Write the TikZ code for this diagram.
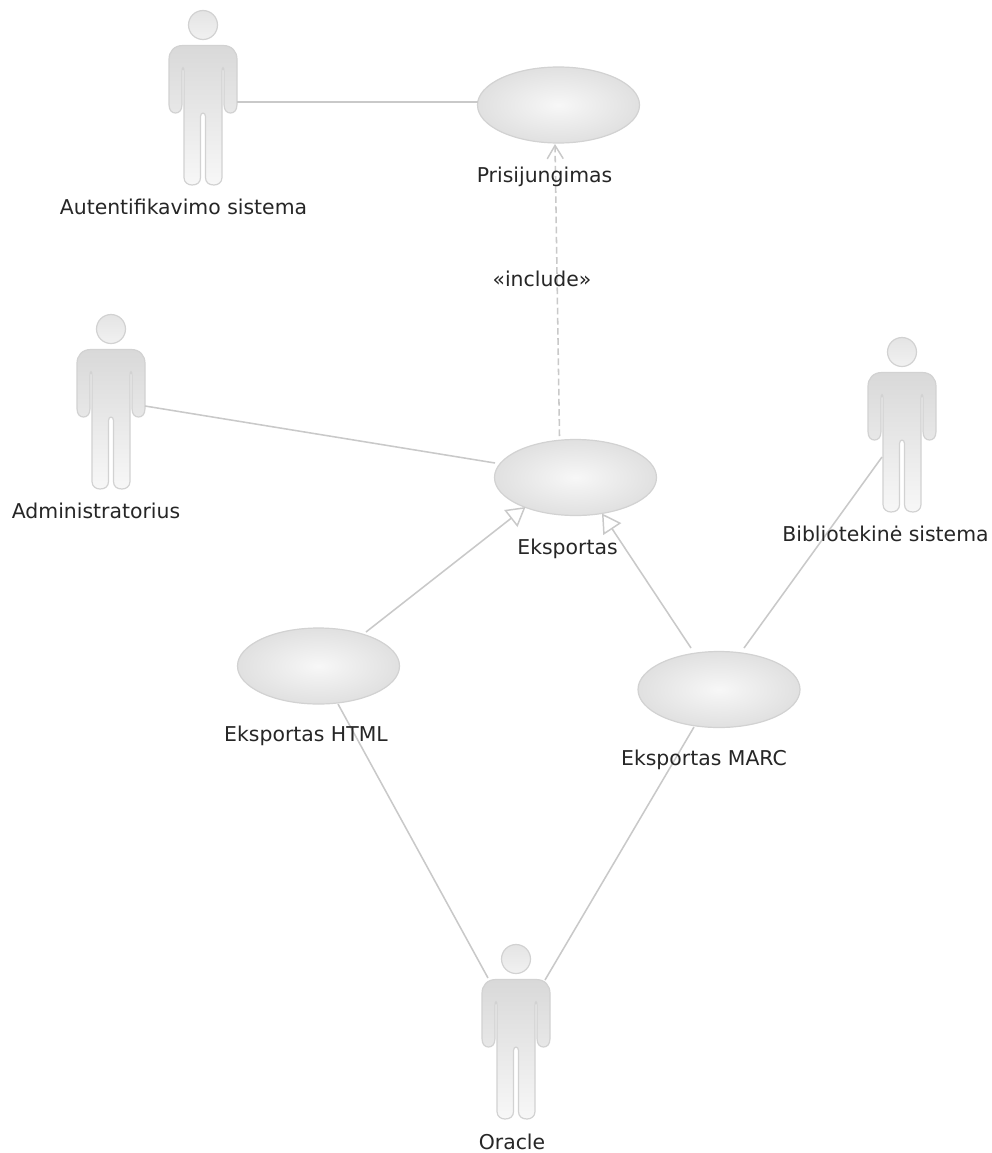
\documentclass[tikz,border=0pt]{standalone}
\usepackage{fontspec}
\setmainfont{DejaVu Sans}
\usetikzlibrary{arrows.meta,shapes.geometric}
\definecolor{linegray}{HTML}{C9C9C9}
\definecolor{edgegray}{HTML}{D2D2D2}
\pgfdeclareradialshading{ucshade}{\pgfpoint{0bp}{0bp}}{color(0bp)=(white!97!black); color(8bp)=(white!94!black); color(36bp)=(white!84!black); color(50bp)=(white!84!black)}
\pgfdeclareverticalshading{actshade}{100bp}{color(0bp)=(white!99!black); color(25bp)=(white!97!black); color(75bp)=(white!85!black); color(100bp)=(white!84!black)}
\pgfdeclareverticalshading{headshade}{100bp}{color(0bp)=(white!97!black); color(100bp)=(white!87!black)}
\tikzset{
  x=0.75pt,y=-0.75pt,
  usecase/.style={ellipse,minimum width=121.5pt,minimum height=57pt,inner sep=0pt,draw=edgegray,line width=0.9pt,shading=ucshade},
  actorbox/.style={rectangle,minimum width=51pt,minimum height=131.25pt,inner sep=0pt,outer sep=0pt},
  rel/.style={draw=linegray,line width=1.15pt},
  incl/.style={rel,dash pattern=on 5pt off 2.6pt,-{Straight Barb[length=10pt,width=12pt,line width=1.1pt]}},
  gen/.style={rel,-{Triangle[open,length=14pt,width=16pt,line width=1.1pt,fill=white]}},
  lbl/.style={inner sep=0pt,font=\fontsize{15.3pt}{18pt}\selectfont,text=black!85},
  pics/actor/.style={code={
    \path[draw=edgegray,line width=0.9pt,shading=headshade] (0,-72.5) circle[radius=14.5];
    \path[draw=edgegray,line width=0.9pt,shading=actshade]
      (-20,-52) -- (20,-52)
      .. controls (29,-52) and (34,-46) .. (34,-38)
      -- (34,7)
      .. controls (34,13) and (31,15.5) .. (27.5,15.5)
      .. controls (24,15.5) and (21,13) .. (21,7)
      -- (21,-26)
      .. controls (21,-31) and (19,-31) .. (19,-26)
      -- (19,80)
      .. controls (19,85) and (15,87.5) .. (11,87.5)
      .. controls (6,87.5) and (2.5,85) .. (2.5,80)
      -- (2.5,19)
      .. controls (2.5,14.5) and (-2.5,14.5) .. (-2.5,19)
      -- (-2.5,80)
      .. controls (-2.5,85) and (-6,87.5) .. (-11,87.5)
      .. controls (-15,87.5) and (-19,85) .. (-19,80)
      -- (-19,-26)
      .. controls (-19,-31) and (-21,-31) .. (-21,-26)
      -- (-21,7)
      .. controls (-21,13) and (-24,15.5) .. (-27.5,15.5)
      .. controls (-31,15.5) and (-34,13) .. (-34,7)
      -- (-34,-38)
      .. controls (-34,-46) and (-29,-52) .. (-20,-52) -- cycle;
  }}
}
\newcommand{\actorat}[3]{\node[actorbox] (#1) at (#2,#3) {}; \pic at (#2,#3) {actor};}
\begin{document}
\begin{tikzpicture}
\useasboundingbox (0,0) rectangle (992,1153);
\fill[white] (0,0) rectangle (992,1153);
\actorat{auth}{203}{97.5}
\actorat{admin}{111}{401.5}
\actorat{biblio}{902}{424.5}
\actorat{oracle}{516}{1031.5}
\node[usecase] (login) at (558.5,105) {};
\node[usecase] (export) at (575.5,477.5) {};
\node[usecase] (html) at (318.5,666) {};
\node[usecase] (marc) at (719,689.5) {};
% connectors
\path[rel] ([shift={(34,4.5)}]auth.center) -- ([shift={(-80.5,-3)}]login.center);
\path[incl] ([shift={(-16,-41.5)}]export.center) -- ([shift={(-3.5,39)}]login.center);
\path[rel] ([shift={(34,4.5)}]admin.center) -- ([shift={(-80.5,-14.5)}]export.center);
\path[gen] ([shift={(47.5,-34)}]html.center) -- ([shift={(-50,29.5)}]export.center);
\path[gen] ([shift={(-28,-41.5)}]marc.center) -- ([shift={(26.5,36)}]export.center);
\path[rel] ([shift={(-20,32.5)}]biblio.center) -- ([shift={(25,-41.5)}]marc.center);
\path[rel] ([shift={(19.5,38)}]html.center) -- ([shift={(-28,-53.5)}]oracle.center);
\path[rel] ([shift={(-25,37.5)}]marc.center) -- ([shift={(29,-51.5)}]oracle.center);
% labels
\node[lbl] (authL) at (183.5,207) {Autentifikavimo sistema};
\node[lbl] (loginL) at (544.5,177) {Prisijungimas};
\node[lbl] (inclL) at (542,279) {«include»};
\node[lbl] (adminL) at (96,511) {Administratorius};
\node[lbl] (exportL) at (567.5,549) {Eksportas};
\node[lbl] (biblioL) at (885.5,534) {Bibliotekinė sistema};
\node[lbl] (htmlL) at (306,736) {Eksportas HTML};
\node[lbl] (marcL) at (704,760) {Eksportas MARC};
\node[lbl] (oracleL) at (512,1142) {Oracle};
\end{tikzpicture}
\end{document}
